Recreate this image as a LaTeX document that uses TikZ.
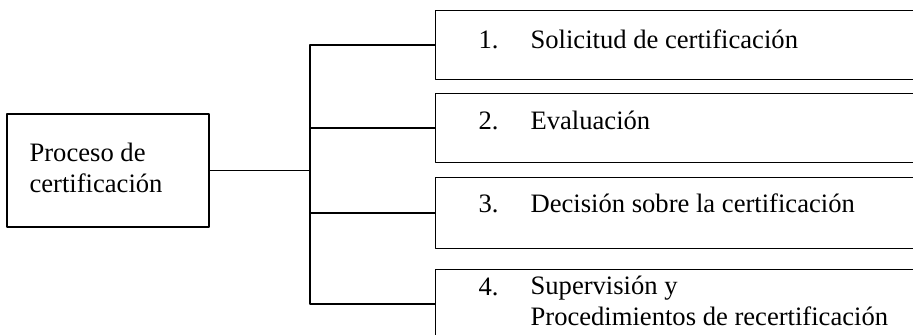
\documentclass[tikz,border=0pt]{standalone}
\usepackage{fontspec}
\setmainfont{Liberation Serif}
\usepackage{tikz}
\usetikzlibrary{calc}
\tikzstyle{every node}=[font=\fontsize{13.3}{15.5}\selectfont]
\tikzstyle{caja}=[draw,line width=0.6pt,inner sep=0pt]
\tikzstyle{txt}=[anchor=base west,inner sep=0pt,align=left]

\begin{document}
\begin{tikzpicture}[line cap=round,line join=round,x=0.5pt,y=-0.5pt,line width=0.6pt]

            \useasboundingbox (0,0) rectangle (913,335);
            \clip (0,0) rectangle (913,335);
            % caja de la izquierda
            \node [caja,minimum width=101pt,minimum height=56.5pt] (proc) at (108,170.5) {};
            \node [txt] (ptxt) at (29,193) {Proceso de\\certificaci\'on};
            % cajas de la derecha
            \node [caja,anchor=north west,minimum width=260pt,minimum height=34.5pt] (b1) at (435,10) {};
            \node [caja,anchor=north west,minimum width=260pt,minimum height=34.5pt] (b2) at (435,93) {};
            \node [caja,anchor=north west,minimum width=260pt,minimum height=35.5pt] (b3) at (435,177) {};
            \node [caja,anchor=north west,minimum width=260pt,minimum height=34.5pt] (b4) at (435,269) {};
            \node [txt] (n1) at ($(b1.north west)+(43,39)$) {1.};
            \node [txt] (t1) at ($(b1.north west)+(95,39)$) {Solicitud de certificaci\'on};
            \node [txt] (n2) at ($(b2.north west)+(43,37)$) {2.};
            \node [txt] (t2) at ($(b2.north west)+(95,37)$) {Evaluaci\'on};
            \node [txt] (n3) at ($(b3.north west)+(43,36)$) {3.};
            \node [txt] (t3) at ($(b3.north west)+(95,36)$) {Decisi\'on sobre la certificaci\'on};
            \node [txt] (n4) at ($(b4.north west)+(43,27)$) {4.};
            \node [txt] (t4) at ($(b4.north west)+(95,57)$) {Supervisi\'on y\\Procedimientos de recertificaci\'on};
            % conectores
            \coordinate (jn) at ($(proc.east -| 310,0)$);
            \draw (proc.east) -- (jn);
            \draw (b1.west) -- (b1.west -| jn) -- (b4.west -| jn) -- (b4.west);
            \draw (b2.west) -- (b2.west -| jn);
            \draw (b3.west) -- (b3.west -| jn);
            \end{tikzpicture}
\end{document}
